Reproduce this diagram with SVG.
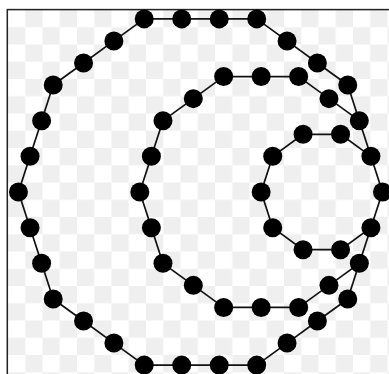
<svg xmlns="http://www.w3.org/2000/svg" width="389" height="374" viewBox="0 0 389 374">
<style>
.e{stroke:#111;stroke-width:1.7;fill:none}
.n{fill:#000}
</style>
<defs>
<pattern id="chk" patternUnits="userSpaceOnUse" x="8" y="10" width="34.5" height="34.5">
<rect width="34.5" height="34.5" fill="#fff"/>
<rect x="17.25" y="0" width="17.25" height="17.25" fill="#efefef"/>
<rect x="0" y="17.25" width="17.25" height="17.25" fill="#efefef"/>
</pattern>
</defs>
<rect width="389" height="374" fill="#fff"/>
<rect x="7.3" y="9.6" width="420" height="420" fill="url(#chk)" stroke="#222" stroke-width="1.5"/>
<g id="connectors">
<line class="e" x1="144.22" y1="18.88" x2="181.72" y2="18.88"/>
<line class="e" x1="181.72" y1="18.88" x2="219.22" y2="18.88"/>
<line class="e" x1="219.22" y1="18.88" x2="256.72" y2="18.88"/>
<line class="e" x1="256.72" y1="18.88" x2="287.06" y2="40.92"/>
<line class="e" x1="287.06" y1="40.92" x2="317.40" y2="62.96"/>
<line class="e" x1="317.40" y1="62.96" x2="347.74" y2="85.00"/>
<line class="e" x1="347.74" y1="85.00" x2="359.33" y2="120.67"/>
<line class="e" x1="359.33" y1="120.67" x2="370.91" y2="156.33"/>
<line class="e" x1="370.91" y1="156.33" x2="382.50" y2="192.00"/>
<line class="e" x1="382.50" y1="192.00" x2="370.91" y2="227.67"/>
<line class="e" x1="370.91" y1="227.67" x2="359.33" y2="263.33"/>
<line class="e" x1="359.33" y1="263.33" x2="347.74" y2="299.00"/>
<line class="e" x1="347.74" y1="299.00" x2="317.40" y2="321.04"/>
<line class="e" x1="317.40" y1="321.04" x2="287.06" y2="343.08"/>
<line class="e" x1="287.06" y1="343.08" x2="256.72" y2="365.12"/>
<line class="e" x1="256.72" y1="365.12" x2="219.22" y2="365.12"/>
<line class="e" x1="219.22" y1="365.12" x2="181.72" y2="365.12"/>
<line class="e" x1="181.72" y1="365.12" x2="144.22" y2="365.12"/>
<line class="e" x1="144.22" y1="365.12" x2="113.88" y2="343.08"/>
<line class="e" x1="113.88" y1="343.08" x2="83.54" y2="321.04"/>
<line class="e" x1="83.54" y1="321.04" x2="53.20" y2="299.00"/>
<line class="e" x1="53.20" y1="299.00" x2="41.61" y2="263.33"/>
<line class="e" x1="41.61" y1="263.33" x2="30.03" y2="227.67"/>
<line class="e" x1="30.03" y1="227.67" x2="18.44" y2="192.00"/>
<line class="e" x1="18.44" y1="192.00" x2="30.03" y2="156.33"/>
<line class="e" x1="30.03" y1="156.33" x2="41.61" y2="120.67"/>
<line class="e" x1="41.61" y1="120.67" x2="53.20" y2="85.00"/>
<line class="e" x1="53.20" y1="85.00" x2="83.54" y2="62.96"/>
<line class="e" x1="83.54" y1="62.96" x2="113.88" y2="40.92"/>
<line class="e" x1="113.88" y1="40.92" x2="144.22" y2="18.88"/>
<line class="e" x1="359.33" y1="120.67" x2="328.99" y2="98.63"/>
<line class="e" x1="328.99" y1="98.63" x2="298.65" y2="76.59"/>
<line class="e" x1="298.65" y1="76.59" x2="261.15" y2="76.59"/>
<line class="e" x1="261.15" y1="76.59" x2="223.65" y2="76.59"/>
<line class="e" x1="223.65" y1="76.59" x2="193.32" y2="98.63"/>
<line class="e" x1="193.32" y1="98.63" x2="162.98" y2="120.67"/>
<line class="e" x1="162.98" y1="120.67" x2="151.39" y2="156.33"/>
<line class="e" x1="151.39" y1="156.33" x2="139.80" y2="192.00"/>
<line class="e" x1="139.80" y1="192.00" x2="151.39" y2="227.67"/>
<line class="e" x1="151.39" y1="227.67" x2="162.98" y2="263.33"/>
<line class="e" x1="162.98" y1="263.33" x2="193.32" y2="285.37"/>
<line class="e" x1="193.32" y1="285.37" x2="223.65" y2="307.41"/>
<line class="e" x1="223.65" y1="307.41" x2="261.15" y2="307.41"/>
<line class="e" x1="261.15" y1="307.41" x2="298.65" y2="307.41"/>
<line class="e" x1="298.65" y1="307.41" x2="328.99" y2="285.37"/>
<line class="e" x1="328.99" y1="285.37" x2="359.33" y2="263.33"/>
<line class="e" x1="370.91" y1="156.33" x2="340.57" y2="134.29"/>
<line class="e" x1="340.57" y1="134.29" x2="303.07" y2="134.29"/>
<line class="e" x1="303.07" y1="134.29" x2="272.73" y2="156.33"/>
<line class="e" x1="272.73" y1="156.33" x2="261.14" y2="192.00"/>
<line class="e" x1="261.14" y1="192.00" x2="272.73" y2="227.67"/>
<line class="e" x1="272.73" y1="227.67" x2="303.07" y2="249.71"/>
<line class="e" x1="303.07" y1="249.71" x2="340.57" y2="249.71"/>
<line class="e" x1="340.57" y1="249.71" x2="370.91" y2="227.67"/>
</g>
<g id="o1"><circle class="n" cx="144.22" cy="18.88" r="9.5"/></g>
<g id="o2"><circle class="n" cx="181.72" cy="18.88" r="9.5"/></g>
<g id="o3"><circle class="n" cx="219.22" cy="18.88" r="9.5"/></g>
<g id="o4"><circle class="n" cx="256.72" cy="18.88" r="9.5"/></g>
<g id="o5"><circle class="n" cx="287.06" cy="40.92" r="9.5"/></g>
<g id="o6"><circle class="n" cx="317.40" cy="62.96" r="9.5"/></g>
<g id="o7"><circle class="n" cx="347.74" cy="85.00" r="9.5"/></g>
<g id="o8"><circle class="n" cx="359.33" cy="120.67" r="9.5"/></g>
<g id="o9"><circle class="n" cx="370.91" cy="156.33" r="9.5"/></g>
<g id="o10"><circle class="n" cx="382.50" cy="192.00" r="9.5"/></g>
<g id="o11"><circle class="n" cx="370.91" cy="227.67" r="9.5"/></g>
<g id="o12"><circle class="n" cx="359.33" cy="263.33" r="9.5"/></g>
<g id="o13"><circle class="n" cx="347.74" cy="299.00" r="9.5"/></g>
<g id="o14"><circle class="n" cx="317.40" cy="321.04" r="9.5"/></g>
<g id="o15"><circle class="n" cx="287.06" cy="343.08" r="9.5"/></g>
<g id="o16"><circle class="n" cx="256.72" cy="365.12" r="9.5"/></g>
<g id="o17"><circle class="n" cx="219.22" cy="365.12" r="9.5"/></g>
<g id="o18"><circle class="n" cx="181.72" cy="365.12" r="9.5"/></g>
<g id="o19"><circle class="n" cx="144.22" cy="365.12" r="9.5"/></g>
<g id="o20"><circle class="n" cx="113.88" cy="343.08" r="9.5"/></g>
<g id="o21"><circle class="n" cx="83.54" cy="321.04" r="9.5"/></g>
<g id="o22"><circle class="n" cx="53.20" cy="299.00" r="9.5"/></g>
<g id="o23"><circle class="n" cx="41.61" cy="263.33" r="9.5"/></g>
<g id="o24"><circle class="n" cx="30.03" cy="227.67" r="9.5"/></g>
<g id="o25"><circle class="n" cx="18.44" cy="192.00" r="9.5"/></g>
<g id="o26"><circle class="n" cx="30.03" cy="156.33" r="9.5"/></g>
<g id="o27"><circle class="n" cx="41.61" cy="120.67" r="9.5"/></g>
<g id="o28"><circle class="n" cx="53.20" cy="85.00" r="9.5"/></g>
<g id="o29"><circle class="n" cx="83.54" cy="62.96" r="9.5"/></g>
<g id="o30"><circle class="n" cx="113.88" cy="40.92" r="9.5"/></g>
<g id="m1"><circle class="n" cx="328.99" cy="98.63" r="9.5"/></g>
<g id="m2"><circle class="n" cx="298.65" cy="76.59" r="9.5"/></g>
<g id="m3"><circle class="n" cx="261.15" cy="76.59" r="9.5"/></g>
<g id="m4"><circle class="n" cx="223.65" cy="76.59" r="9.5"/></g>
<g id="m5"><circle class="n" cx="193.32" cy="98.63" r="9.5"/></g>
<g id="m6"><circle class="n" cx="162.98" cy="120.67" r="9.5"/></g>
<g id="m7"><circle class="n" cx="151.39" cy="156.33" r="9.5"/></g>
<g id="m8"><circle class="n" cx="139.80" cy="192.00" r="9.5"/></g>
<g id="m9"><circle class="n" cx="151.39" cy="227.67" r="9.5"/></g>
<g id="m10"><circle class="n" cx="162.98" cy="263.33" r="9.5"/></g>
<g id="m11"><circle class="n" cx="193.32" cy="285.37" r="9.5"/></g>
<g id="m12"><circle class="n" cx="223.65" cy="307.41" r="9.5"/></g>
<g id="m13"><circle class="n" cx="261.15" cy="307.41" r="9.5"/></g>
<g id="m14"><circle class="n" cx="298.65" cy="307.41" r="9.5"/></g>
<g id="m15"><circle class="n" cx="328.99" cy="285.37" r="9.5"/></g>
<g id="i1"><circle class="n" cx="340.57" cy="134.29" r="9.5"/></g>
<g id="i2"><circle class="n" cx="303.07" cy="134.29" r="9.5"/></g>
<g id="i3"><circle class="n" cx="272.73" cy="156.33" r="9.5"/></g>
<g id="i4"><circle class="n" cx="261.14" cy="192.00" r="9.5"/></g>
<g id="i5"><circle class="n" cx="272.73" cy="227.67" r="9.5"/></g>
<g id="i6"><circle class="n" cx="303.07" cy="249.71" r="9.5"/></g>
<g id="i7"><circle class="n" cx="340.57" cy="249.71" r="9.5"/></g>
</svg>
